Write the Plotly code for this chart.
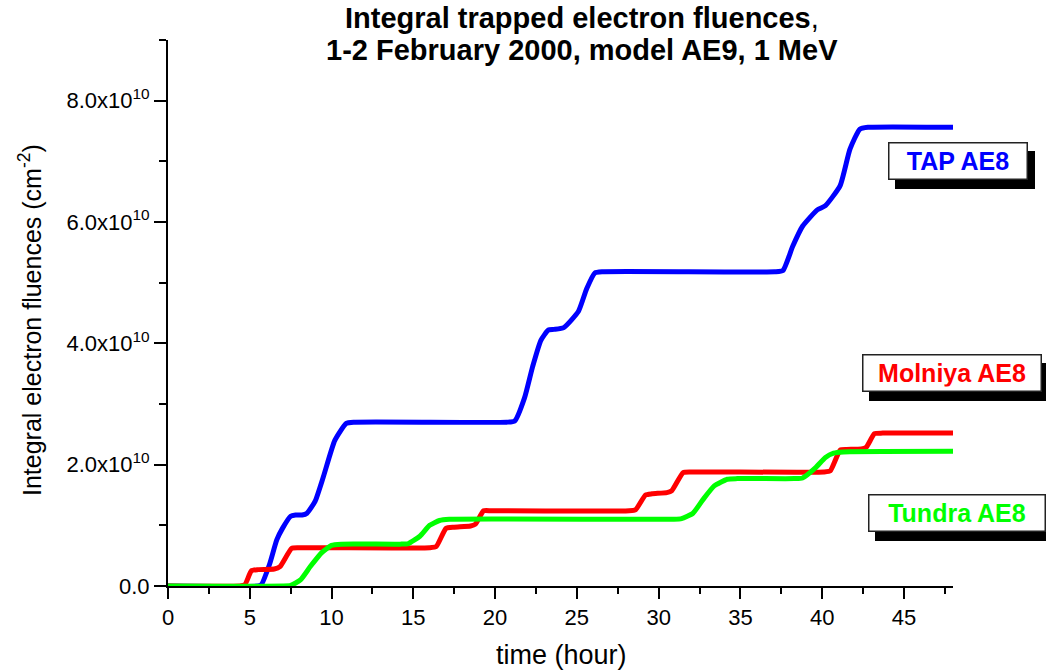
import plotly.graph_objects as go

# ---- data (fluence in units of 1e10 cm^-2, time in hours) ----
tap_t = [0, 5.5, 5.7, 6.2, 6.65, 7.0, 7.5, 7.8, 8.2, 8.5, 9.0, 9.5, 10.2, 10.9, 11.4, 20.7,
         21.2, 21.8, 22.3, 22.8, 23.26, 23.6, 24.2, 25.1, 25.6, 26.1, 26.6, 37.1, 37.6, 38.2,
         38.8, 39.7, 40.2, 41.1, 41.7, 42.3, 42.8, 48]
tap_v = [0, 0, 0.02, 0.35, 0.76, 0.95, 1.15, 1.17, 1.17, 1.2, 1.4, 1.8, 2.4, 2.68, 2.7, 2.7,
         2.72, 3.1, 3.62, 4.05, 4.22, 4.23, 4.26, 4.53, 4.9, 5.16, 5.18, 5.18, 5.2, 5.6,
         5.93, 6.2, 6.27, 6.6, 7.2, 7.53, 7.56, 7.56]

mol_t = [0, 4.4, 4.7, 5.1, 5.5, 6.5, 6.85, 7.56, 8.0, 16.0, 16.4, 17.0, 17.5, 18.5, 18.8,
         19.3, 19.8, 28.2, 28.6, 29.2, 29.6, 30.5, 30.8, 31.5, 32.0, 40.1, 40.5, 41.1, 41.5,
         42.4, 42.7, 43.2, 43.7, 48]
mol_v = [0, 0, 0.02, 0.25, 0.27, 0.28, 0.32, 0.62, 0.63, 0.63, 0.65, 0.95, 0.97, 0.99, 1.02,
         1.24, 1.24, 1.24, 1.26, 1.5, 1.52, 1.54, 1.57, 1.87, 1.88, 1.88, 1.9, 2.24, 2.25,
         2.26, 2.29, 2.51, 2.52, 2.52]

tun_t = [0, 7.0, 7.5, 8.1, 8.7, 9.4, 10.0, 10.6, 14.2, 14.7, 15.4, 16.0, 16.6, 17.2, 30.9,
         31.4, 32.1, 32.7, 33.4, 34.2, 34.8, 38.3, 38.8, 39.6, 40.2, 40.7, 41.3, 48]
tun_v = [0, 0, 0.01, 0.1, 0.32, 0.55, 0.67, 0.69, 0.69, 0.7, 0.82, 1.0, 1.08, 1.1, 1.1,
         1.11, 1.2, 1.42, 1.65, 1.76, 1.77, 1.77, 1.78, 1.95, 2.12, 2.19, 2.21, 2.22]

scale = 1e10
y_tickvals = [0, 2e10, 4e10, 6e10, 8e10]
y_ticktext = ["0.0", "2.0x10<sup>10</sup>", "4.0x10<sup>10</sup>", "6.0x10<sup>10</sup>",
              "8.0x10<sup>10</sup>"]
x_tickvals = [0, 5, 10, 15, 20, 25, 30, 35, 40, 45]

title_lines = ["<b>Integral trapped electron fluences</b>,",
               "<b>1-2 February 2000, model AE9, 1 MeV</b>"]

series = [
    ("TAP AE8", tap_t, tap_v, "#0000FF"),
    ("Molniya AE8", mol_t, mol_v, "#FF0000"),
    ("Tundra AE8", tun_t, tun_v, "#00FF00"),
]

fig = go.Figure()
for name, t, v, col in series:
    fig.add_trace(go.Scatter(
        x=t, y=[val * scale for val in v], mode="lines", name=name,
        line=dict(color=col, width=5, shape="spline", smoothing=0.5),
        showlegend=False, cliponaxis=False, hoverinfo="skip",
    ))

FONT = "Liberation Sans, Arial, sans-serif"
L, R, T, B = 168, 953, 40, 586
PW, PH = R - L, B - T


def px(xp):
    return (xp - L) / PW


def py(yp):
    return (B - yp) / PH


fig.update_layout(
    width=1046, height=671,
    margin=dict(l=L, r=1046 - R, t=T, b=671 - B),
    paper_bgcolor="white", plot_bgcolor="white",
    font=dict(family=FONT, color="black"),
    xaxis=dict(
        range=[0, 48], showgrid=False, zeroline=False,
        showline=True, linecolor="black", linewidth=2,
        tickmode="array", tickvals=x_tickvals,
        ticks="outside", ticklen=11, tickwidth=2, tickcolor="black",
        minor=dict(dtick=2.5, tick0=0, ticks="outside", ticklen=6, tickwidth=2, tickcolor="black"),
        tickfont=dict(family=FONT, size=22, color="black"),
    ),
    yaxis=dict(
        range=[0, 9e10], showgrid=False, zeroline=False,
        showline=True, linecolor="black", linewidth=2,
        tickmode="array", tickvals=y_tickvals, ticktext=y_ticktext,
        ticks="outside", ticklen=12, tickwidth=2, tickcolor="black",
        minor=dict(dtick=1e10, tick0=0, ticks="outside", ticklen=7, tickwidth=2, tickcolor="black"),
        tickfont=dict(family=FONT, size=22, color="black"),
    ),
)

# title (two lines, placed separately for tighter line spacing)
for line, cy in zip(title_lines, [18, 50]):
    fig.add_annotation(
        text=line, xref="paper", yref="paper", x=px(582), y=py(cy),
        xanchor="center", yanchor="middle", showarrow=False,
        font=dict(family=FONT, size=29, color="black"))

# axis titles
fig.add_annotation(text="time (hour)", xref="paper", yref="paper",
                   x=px(561), y=py(655), xanchor="center", yanchor="middle",
                   showarrow=False, font=dict(family=FONT, size=27, color="black"))
fig.add_annotation(text="Integral electron fluences (cm<sup>-2</sup>)", xref="paper", yref="paper",
                   x=px(30), y=py(320), xanchor="center", yanchor="middle",
                   textangle=-90, showarrow=False, font=dict(family=FONT, size=25, color="black"))

# labelled boxes with drop shadows (shadow drawn as a rectangle shape)
labels = [
    ("TAP AE8", "#0000FF", 958, 161, 129),
    ("Molniya AE8", "#FF0000", 952, 373, 169),
    ("Tundra AE8", "#00FF00", 957, 513, 167),
]
PAD, BW, H = 4, 1.5, 27
SHX, SHY = 7, 9
for txt, col, cx, cy, w in labels:
    fw = w + 2 * PAD + 2 * BW
    fh = H + 2 * PAD + 2 * BW
    x0, x1 = cx - fw / 2 + SHX, cx + fw / 2 + SHX
    y0, y1 = cy - fh / 2 + SHY, cy + fh / 2 + SHY
    fig.add_shape(type="rect", xref="paper", yref="paper",
                  x0=px(x0), x1=px(x1), y0=py(y1), y1=py(y0),
                  fillcolor="black", line=dict(width=0), layer="above")
    fig.add_annotation(text="<b>%s</b>" % txt, xref="paper", yref="paper", x=px(cx), y=py(cy),
                       xanchor="center", yanchor="middle", showarrow=False,
                       width=w, height=H, borderpad=PAD, borderwidth=BW, align="center",
                       font=dict(family=FONT, size=25, color=col),
                       bgcolor="white", bordercolor="#222222")

fig.write_html("out.html", config={"displayModeBar": False},
               post_script="document.body.style.margin='0';document.body.style.padding='0';")
